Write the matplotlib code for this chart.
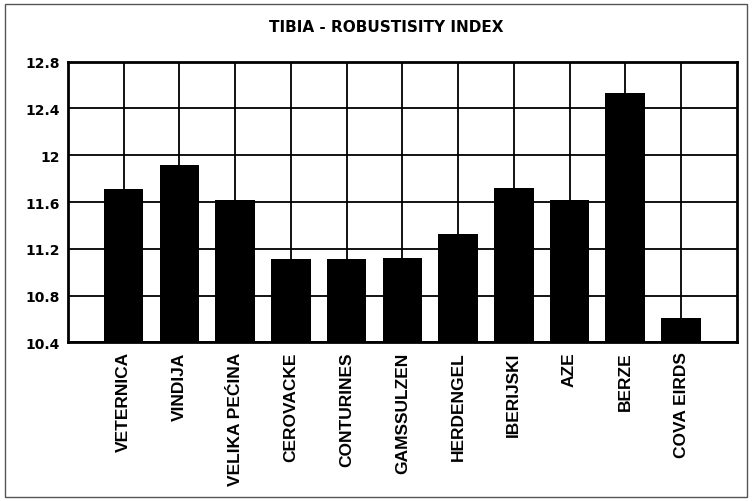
import matplotlib.pyplot as plt
from matplotlib.patches import Rectangle

sites = ['VETERNICA', 'VINDIJA', 'VELIKA PEĆINA', 'CEROVACKE', 'CONTURINES',
         'GAMSSULZEN', 'HERDENGEL', 'IBERIJSKI', 'AZE', 'BERZE', 'COVA EIRDS']
index = [11.71, 11.92, 11.62, 11.11, 11.11, 11.12, 11.33, 11.72, 11.62, 12.53, 10.61]
yticks = [10.4, 10.8, 11.2, 11.6, 12.0, 12.4, 12.8]
ytick_labels = ['10.4', '10.8', '11.2', '11.6', '12', '12.4', '12.8']

plt.rcParams['font.family'] = ['Liberation Sans', 'DejaVu Sans']

fig = plt.figure(figsize=(7.52, 5.02), dpi=100)
ax = fig.add_axes([0.0904, 0.3161, 0.8893, 0.5590])

x = list(range(len(sites)))
ax.bar(x, [v - 10.4 for v in index], bottom=10.4, width=0.71, color='black', zorder=3)

ax.set_xlim(-1, len(sites))
ax.set_ylim(10.4, 12.8)
ax.set_yticks(yticks)
ax.set_yticklabels(ytick_labels, fontsize=10, fontweight='bold', family='DejaVu Sans')
ax.set_xticks(x)
ax.set_xticklabels(sites, rotation=90, fontsize=12.5, fontweight='bold', va='top')
ax.tick_params(axis='x', length=0, pad=6.5)
ax.tick_params(axis='y', length=0, pad=6)
ax.grid(True, color='black', linewidth=1.3, zorder=1)
ax.set_axisbelow(True)
for s in ax.spines.values():
    s.set_linewidth(2)
    s.set_zorder(4)

fig.text(386 / 752, 1 - 27 / 502, 'TIBIA - ROBUSTISITY INDEX', ha='center', va='center',
         fontsize=11, fontweight='bold', family='DejaVu Sans')

fig.patches.append(Rectangle((0.006, 0.008), 0.988, 0.982, transform=fig.transFigure,
                             fill=False, edgecolor='#555555', linewidth=1))

fig.savefig('out.png', dpi=100)
